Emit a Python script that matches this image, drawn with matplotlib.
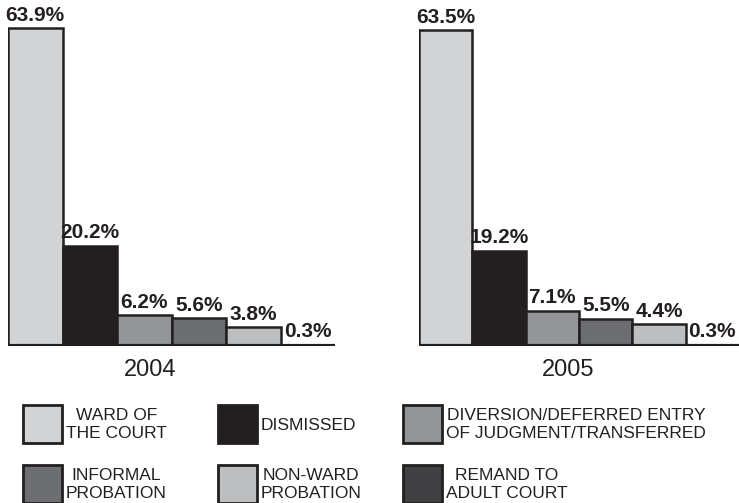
import numpy as np
import matplotlib
matplotlib.use("Agg")
import matplotlib.pyplot as plt
from matplotlib.patches import Rectangle

# data
years = ["2004", "2005"]
categories = ["WARD OF\nTHE COURT", "DISMISSED", "DIVERSION/DEFERRED ENTRY\nOF JUDGMENT/TRANSFERRED",
              "INFORMAL\nPROBATION", "NON-WARD\nPROBATION", "REMAND TO\nADULT COURT"]
pct_2004 = [63.9, 20.2, 6.2, 5.6, 3.8, 0.3]
pct_2005 = [63.5, 19.2, 7.1, 5.5, 4.4, 0.3]

colors = ["#d1d3d4", "#231f20", "#939598", "#6d6e71", "#bcbec0", "#414042"]
dark = "#231f20"

W, H = 739, 503
plt.rcParams['font.family'] = ['Liberation Sans', 'DejaVu Sans']
fig = plt.figure(figsize=(W / 100, H / 100), dpi=100)


def px(x, y):
    # pixel (from top-left) -> figure fraction
    return x / W, 1 - y / H


def draw_group(vals, left, right, year, year_x):
    base = 346
    top = base - 70 * 4.97
    ax = fig.add_axes([left / W, 1 - base / H, (right - left) / W, (base - top) / H])
    x = np.arange(len(vals))
    ax.bar(x, vals, width=1.0, color=colors, edgecolor=dark, linewidth=1.8)
    ax.axhline(0, color=dark, lw=3)
    for xi, v in zip(x, vals):
        ax.annotate(f"{v}%", (xi, v), xytext=(0, 2.5), textcoords="offset points",
                    ha="center", va="bottom", fontsize=15, fontweight="bold", color=dark)
    ax.set_xlim(-0.5, len(vals) - 0.5)
    ax.set_ylim(0, 70)
    ax.axis("off")
    fig.text(*px(year_x, 370), year, ha="center", va="center", fontsize=17, color=dark)


draw_group(pct_2004, 8, 335, years[0], 150)
draw_group(pct_2005, 419, 739, years[1], 568)

# legend
sw_x = [23, 218, 403]
sw_y = [405, 465]
sw_w, sw_h = 39, 38
for i, (lab, c) in enumerate(zip(categories, colors)):
    r, col = divmod(i, 3)
    x0, y0 = sw_x[col], sw_y[r]
    fx, fy = px(x0, y0 + sw_h)
    fig.add_artist(Rectangle((fx, fy), sw_w / W, sw_h / H, transform=fig.transFigure,
                             facecolor=c, edgecolor=dark, linewidth=2))
    fig.text(*px(x0 + sw_w + 4, y0 + sw_h / 2 + 1), lab, ha="left", va="center",
             multialignment="center", fontsize=12.5, color=dark, linespacing=1.25)

fig.savefig("out.png", dpi=100)
